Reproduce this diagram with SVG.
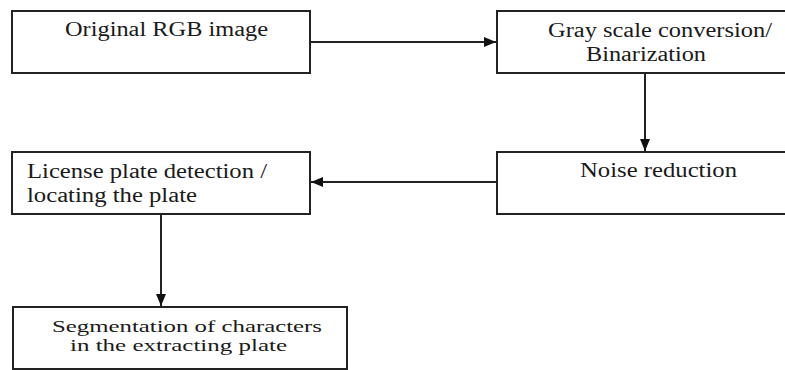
<svg xmlns="http://www.w3.org/2000/svg" width="785" height="370" viewBox="0 0 785 370">
<style>
.box{fill:#fff;stroke:#222;stroke-width:2}
.lbl{font-family:"Liberation Serif","Times New Roman",serif;font-size:20px;fill:#1a1a1a}
.sm{font-size:17px}
.con{stroke:#222;stroke-width:2;fill:none}
</style>
<defs>
<marker id="ah" markerUnits="userSpaceOnUse" markerWidth="12" markerHeight="10" refX="12" refY="5" orient="auto">
<path d="M0,0 L12,5 L0,10 z" fill="#111"/>
</marker>
</defs>
<rect width="785" height="370" fill="#fff"/>
<g id="connectors">
<line class="con" x1="310" y1="42" x2="496" y2="42" marker-end="url(#ah)"/>
<line class="con" x1="645" y1="73" x2="645" y2="151" marker-end="url(#ah)"/>
<line class="con" x1="497" y1="182" x2="311" y2="182" marker-end="url(#ah)"/>
<line class="con" x1="161" y1="214" x2="161" y2="306" marker-end="url(#ah)"/>
</g>
<g id="n1">
<rect class="box" x="12" y="11" width="298" height="62"/>
<text class="lbl" x="65" y="36" textLength="203" lengthAdjust="spacingAndGlyphs">Original RGB image</text>
</g>
<g id="n2">
<rect class="box" x="497" y="11" width="300" height="62"/>
<text class="lbl" x="548" y="37" textLength="224" lengthAdjust="spacingAndGlyphs">Gray scale conversion/</text>
<text class="lbl" x="586" y="61" textLength="120" lengthAdjust="spacingAndGlyphs">Binarization</text>
</g>
<g id="n3">
<rect class="box" x="497" y="152" width="300" height="62"/>
<text class="lbl" x="580" y="177" textLength="157" lengthAdjust="spacingAndGlyphs">Noise reduction</text>
</g>
<g id="n4">
<rect class="box" x="12" y="152" width="298" height="62"/>
<text class="lbl" x="27" y="178" textLength="240" lengthAdjust="spacingAndGlyphs">License plate detection /</text>
<text class="lbl" x="27" y="202" textLength="170" lengthAdjust="spacingAndGlyphs">locating the plate</text>
</g>
<g id="n5">
<rect class="box" x="13" y="307" width="334" height="62"/>
<text class="lbl sm" x="52" y="332" textLength="270" lengthAdjust="spacingAndGlyphs">Segmentation of characters</text>
<text class="lbl sm" x="70" y="351" textLength="217" lengthAdjust="spacingAndGlyphs">in the extracting plate</text>
</g>
</svg>
